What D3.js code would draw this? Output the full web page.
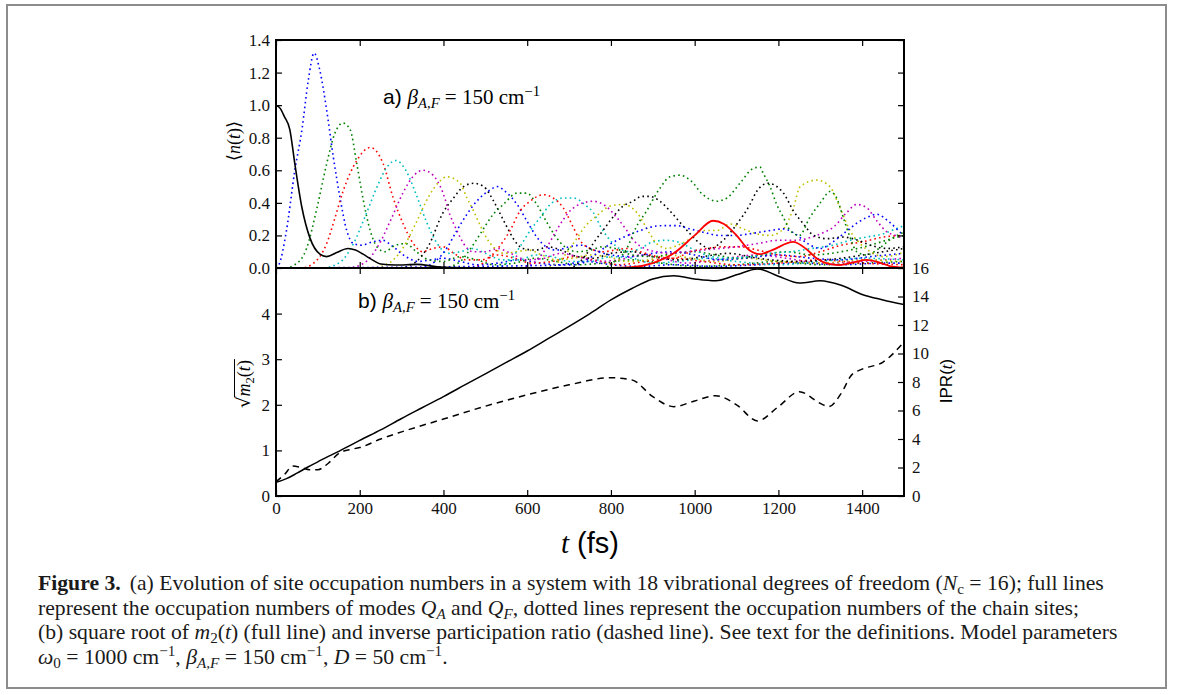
<!DOCTYPE html>
<html><head><meta charset="utf-8">
<script src="https://cdn.jsdelivr.net/npm/d3@7/dist/d3.min.js"></script>
<style>body{margin:0;background:#fff}svg{display:block}</style>
</head><body><svg id="c" width="1179" height="695"></svg>
<script>
// ---------------- data ----------------
const xTicks = [0, 200, 400, 600, 800, 1000, 1200, 1400];
const topYTicks = [0, 0.2, 0.4, 0.6, 0.8, 1.0, 1.2, 1.4];
const botLeftTicks = [0, 1, 2, 3, 4];
const botRightTicks = [0, 2, 4, 6, 8, 10, 12, 14, 16];
const siteColors = ["#0000ff","#008000","#ff0000","#00bfbf","#bf00bf","#bfbf00","#000000",
                    "#0000ff","#008000","#ff0000","#00bfbf","#bf00bf","#bfbf00","#000000",
                    "#0000ff","#008000"];

// chain sites occupation <n(t)>  [t (fs), value]
const site1 = [[0,0],[7,0.02],[25,0.23],[45,0.6],[62,0.85],[77,1.15],[91,1.32],[105,1.21],[121,0.97],[137,0.68],[153,0.43],[169,0.23],[185,0.15],[205,0.14],[230,0.16],[255,0.17],[280,0.13],[310,0.07],[340,0.04],[370,0.05],[400,0.06],[440,0.04],[480,0.02],[530,0.03],[580,0.05],[630,0.03],[680,0.02],[740,0.04],[800,0.02],[870,0.01],[950,0.02],[1050,0.01],[1150,0.02],[1250,0.03],[1350,0.02],[1450,0.03],[1500,0.03]];
const site2 = [[0,0],[20,0],[45,0.02],[73,0.12],[98,0.37],[121,0.64],[141,0.83],[160,0.89],[177,0.85],[193,0.64],[209,0.41],[225,0.23],[241,0.13],[260,0.1],[285,0.14],[310,0.15],[335,0.1],[365,0.05],[400,0.04],[440,0.07],[480,0.05],[520,0.02],[570,0.03],[620,0.06],[670,0.04],[720,0.02],[780,0.03],[850,0.05],[920,0.03],[1000,0.01],[1100,0.02],[1200,0.04],[1300,0.02],[1400,0.03],[1500,0.04]];
const site3 = [[0,0],[60,0],[90,0.03],[121,0.15],[140,0.3],[160,0.47],[193,0.66],[225,0.74],[256,0.64],[280,0.43],[304,0.27],[328,0.15],[350,0.1],[375,0.12],[400,0.13],[425,0.09],[455,0.05],[490,0.05],[530,0.08],[570,0.06],[610,0.03],[660,0.04],[710,0.07],[760,0.05],[820,0.02],[880,0.04],[950,0.06],[1020,0.04],[1100,0.02],[1200,0.03],[1300,0.05],[1400,0.03],[1500,0.02]];
const site4 = [[0,0],[110,0],[150,0.03],[185,0.15],[215,0.33],[245,0.52],[265,0.62],[287,0.66],[310,0.6],[335,0.45],[360,0.28],[385,0.15],[410,0.09],[440,0.1],[470,0.12],[500,0.09],[540,0.05],[580,0.05],[620,0.08],[660,0.07],[700,0.04],[750,0.04],[800,0.07],[850,0.06],[900,0.03],[960,0.04],[1030,0.06],[1100,0.04],[1200,0.02],[1300,0.04],[1400,0.06],[1500,0.05]];
const site5 = [[0,0],[170,0],[210,0.03],[245,0.14],[275,0.3],[305,0.47],[330,0.57],[351,0.6],[375,0.57],[399,0.46],[415,0.33],[432,0.23],[448,0.15],[470,0.1],[500,0.1],[530,0.12],[560,0.09],[600,0.05],[640,0.06],[680,0.09],[720,0.07],[770,0.04],[820,0.05],[870,0.08],[920,0.06],[980,0.03],[1050,0.05],[1150,0.08],[1220,0.06],[1300,0.03],[1400,0.04],[1500,0.06]];
const site6 = [[0,0],[230,0],[270,0.03],[305,0.13],[335,0.28],[365,0.44],[390,0.53],[408,0.56],[440,0.52],[456,0.43],[472,0.35],[488,0.26],[504,0.18],[519,0.13],[545,0.09],[575,0.1],[605,0.11],[635,0.08],[670,0.05],[710,0.06],[750,0.08],[790,0.07],[840,0.04],[890,0.05],[940,0.08],[990,0.06],[1050,0.04],[1120,0.06],[1200,0.04],[1300,0.03],[1400,0.05],[1500,0.04]];
const site7 = [[0,0],[290,0],[330,0.03],[365,0.14],[399,0.34],[424,0.43],[448,0.5],[472,0.52],[496,0.5],[520,0.41],[536,0.33],[552,0.25],[567,0.18],[590,0.12],[620,0.11],[650,0.13],[680,0.11],[720,0.07],[760,0.06],[800,0.09],[850,0.1],[900,0.07],[960,0.05],[1020,0.07],[1080,0.09],[1150,0.06],[1250,0.04],[1350,0.06],[1450,0.1],[1500,0.12]];
const site8 = [[0,0],[340,0],[380,0.04],[410,0.13],[432,0.23],[456,0.33],[483,0.42],[512,0.48],[528,0.5],[552,0.46],[576,0.39],[599,0.29],[623,0.19],[645,0.13],[670,0.11],[700,0.13],[730,0.14],[760,0.11],[800,0.08],[850,0.07],[900,0.09],[950,0.1],[1000,0.08],[1060,0.05],[1120,0.06],[1200,0.08],[1280,0.06],[1350,0.05],[1420,0.07],[1500,0.09]];
const site9 = [[0,0],[400,0],[440,0.04],[465,0.12],[488,0.21],[519,0.33],[543,0.39],[576,0.46],[599,0.46],[623,0.39],[647,0.28],[666,0.2],[690,0.13],[720,0.1],[750,0.11],[780,0.13],[810,0.12],[850,0.08],[900,0.07],[950,0.09],[1000,0.1],[1050,0.08],[1100,0.06],[1160,0.08],[1220,0.1],[1280,0.08],[1350,0.1],[1420,0.14],[1470,0.18],[1500,0.2]];
const site10 = [[0,0],[460,0],[500,0.04],[530,0.12],[559,0.23],[583,0.35],[607,0.41],[639,0.45],[662,0.43],[686,0.37],[710,0.25],[726,0.17],[750,0.12],[780,0.1],[810,0.11],[840,0.12],[870,0.1],[910,0.07],[950,0.06],[990,0.1],[1030,0.12],[1070,0.13],[1110,0.13],[1150,0.11],[1200,0.08],[1250,0.07],[1300,0.1],[1350,0.14],[1400,0.16],[1450,0.19],[1500,0.2]];
const site11 = [[0,0],[520,0],[560,0.05],[585,0.14],[607,0.23],[631,0.31],[655,0.39],[686,0.43],[710,0.43],[742,0.38],[758,0.34],[774,0.26],[798,0.17],[820,0.12],[845,0.1],[870,0.12],[900,0.16],[930,0.17],[960,0.16],[1000,0.11],[1040,0.07],[1080,0.06],[1130,0.07],[1180,0.09],[1230,0.1],[1280,0.12],[1330,0.14],[1371,0.17],[1410,0.19],[1450,0.21],[1480,0.24],[1500,0.26]];
const site12 = [[0,0],[580,0],[620,0.04],[645,0.12],[672,0.24],[702,0.35],[734,0.4],[758,0.41],[782,0.39],[814,0.31],[838,0.23],[854,0.17],[880,0.12],[910,0.1],[940,0.09],[980,0.1],[1020,0.11],[1060,0.12],[1100,0.13],[1150,0.15],[1200,0.17],[1240,0.17],[1280,0.19],[1310,0.22],[1331,0.25],[1363,0.34],[1387,0.39],[1411,0.37],[1435,0.29],[1460,0.22],[1480,0.2],[1500,0.18]];
const site13 = [[0,0],[640,0],[680,0.05],[710,0.15],[740,0.26],[766,0.32],[798,0.38],[830,0.39],[862,0.34],[893,0.21],[909,0.15],[935,0.12],[960,0.14],[990,0.18],[1020,0.23],[1053,0.23],[1085,0.27],[1116,0.24],[1148,0.21],[1180,0.2],[1212,0.24],[1236,0.37],[1252,0.5],[1291,0.54],[1323,0.5],[1347,0.37],[1371,0.23],[1395,0.15],[1420,0.1],[1450,0.07],[1480,0.08],[1500,0.1]];
const site14 = [[0,0],[700,0],[740,0.08],[760,0.16],[781,0.23],[798,0.29],[829,0.38],[853,0.41],[873,0.44],[893,0.44],[917,0.41],[941,0.35],[965,0.28],[989,0.21],[1013,0.15],[1037,0.12],[1068,0.17],[1101,0.27],[1132,0.39],[1148,0.47],[1175,0.52],[1212,0.46],[1236,0.35],[1260,0.27],[1284,0.2],[1316,0.18],[1355,0.19],[1390,0.17],[1420,0.14],[1460,0.12],[1500,0.13]];
const site15 = [[0,0],[720,0.02],[760,0.08],[800,0.15],[840,0.2],[870,0.23],[893,0.25],[925,0.26],[957,0.26],[989,0.24],[1020,0.22],[1060,0.2],[1100,0.2],[1132,0.21],[1180,0.23],[1212,0.24],[1240,0.21],[1270,0.15],[1300,0.12],[1330,0.16],[1360,0.22],[1390,0.28],[1411,0.31],[1435,0.33],[1466,0.28],[1495,0.21],[1500,0.2]];
const site16 = [[0,0],[780,0],[810,0.04],[838,0.12],[860,0.25],[885,0.35],[917,0.49],[941,0.56],[965,0.57],[989,0.54],[1020,0.45],[1053,0.41],[1077,0.43],[1108,0.52],[1139,0.61],[1156,0.62],[1164,0.58],[1180,0.5],[1196,0.39],[1212,0.31],[1228,0.23],[1250,0.2],[1275,0.31],[1303,0.41],[1323,0.47],[1339,0.43],[1355,0.31],[1371,0.19],[1387,0.1],[1410,0.08],[1440,0.12],[1470,0.18],[1500,0.22]];
const sites = [site1,site2,site3,site4,site5,site6,site7,site8,site9,site10,site11,site12,site13,site14,site15,site16];

// modes Q_A (black) and Q_F (red)
const modeQA = [[0,1.0],[10,0.98],[20,0.93],[33,0.85],[45,0.64],[62,0.37],[81,0.185],[105,0.085],[121,0.07],[145,0.095],[172,0.12],[190,0.11],[208,0.085],[230,0.05],[250,0.025],[285,0.018],[337,0.022],[385,0.008],[420,0.003],[500,0],[1500,0]];
const modeQF = [[0,0],[800,0],[850,0.005],[900,0.03],[950,0.09],[1000,0.2],[1044,0.29],[1070,0.27],[1100,0.2],[1130,0.11],[1156,0.085],[1185,0.11],[1235,0.16],[1265,0.12],[1291,0.06],[1320,0.025],[1345,0.018],[1380,0.035],[1411,0.05],[1440,0.035],[1466,0.012],[1500,0.003]];

// panel b: sqrt(m2(t)) (left axis) and IPR(t) (right axis)
const sqrtM2 = [[0,0.3],[25,0.38],[50,0.5],[75,0.63],[100,0.75],[125,0.87],[150,0.98],[175,1.1],[200,1.22],[250,1.45],[300,1.7],[350,1.94],[400,2.18],[450,2.43],[500,2.68],[550,2.93],[600,3.18],[650,3.45],[700,3.72],[750,4.0],[800,4.3],[850,4.55],[900,4.76],[950,4.83],[1000,4.76],[1050,4.72],[1100,4.85],[1150,4.98],[1200,4.82],[1250,4.67],[1300,4.72],[1350,4.62],[1400,4.42],[1450,4.3],[1500,4.2]];
const ipr = [[0,1.0],[20,1.5],[40,2.1],[60,2.0],[80,1.85],[100,1.85],[125,2.3],[150,3.0],[175,3.25],[200,3.4],[250,4.0],[300,4.5],[400,5.4],[500,6.3],[600,7.1],[700,7.8],[800,8.3],[850,8.15],[900,6.97],[950,6.27],[1000,6.67],[1050,7.04],[1100,6.4],[1150,5.27],[1200,6.27],[1250,7.32],[1300,6.5],[1320,6.27],[1350,7.2],[1375,8.5],[1400,8.9],[1450,9.4],[1500,10.8]];

// ---------------- drawing ----------------
const svg = d3.select("#c");
const L = 276, R = 904, T1 = 40, M = 268, B = 496;
const x = d3.scaleLinear().domain([0,1500]).range([L,R]);
const yTop = d3.scaleLinear().domain([0,1.4]).range([M,T1]);
const yL = d3.scaleLinear().domain([0,5]).range([B,M]);
const yR = d3.scaleLinear().domain([0,16]).range([B,M]);
const SERIF = "Liberation Serif, DejaVu Serif, serif";
const SANS = "Liberation Sans, Arial, sans-serif";

// outer frame
svg.append("rect").attr("x",7).attr("y",5).attr("width",1159).attr("height",683)
  .attr("fill","none").attr("stroke","#8c8c8c").attr("stroke-width",2);

const defs = svg.append("defs");
defs.append("clipPath").attr("id","clipTop").append("rect").attr("x",L).attr("y",T1).attr("width",R-L).attr("height",M-T1);
defs.append("clipPath").attr("id","clipBot").append("rect").attr("x",L).attr("y",M-3).attr("width",R-L).attr("height",B-M+3);

const lineTop = d3.line().x(d=>x(d[0])).y(d=>yTop(d[1])).curve(d3.curveMonotoneX);
const gTop = svg.append("g").attr("clip-path","url(#clipTop)");
sites.forEach((s,i)=>{
  gTop.append("path").attr("d",lineTop(s)).attr("fill","none")
    .attr("stroke",siteColors[i]).attr("stroke-width",1.6)
    .attr("stroke-dasharray","1.6,3.2");
});
gTop.append("path").attr("d",lineTop(modeQA)).attr("fill","none").attr("stroke","#000").attr("stroke-width",1.6);
gTop.append("path").attr("d",lineTop(modeQF)).attr("fill","none").attr("stroke","#ff0000").attr("stroke-width",1.8);

const gBot = svg.append("g").attr("clip-path","url(#clipBot)");
gBot.append("path").attr("d",d3.line().x(d=>x(d[0])).y(d=>yL(d[1])).curve(d3.curveMonotoneX)(sqrtM2))
  .attr("fill","none").attr("stroke","#000").attr("stroke-width",1.5);
gBot.append("path").attr("d",d3.line().x(d=>x(d[0])).y(d=>yR(d[1])).curve(d3.curveMonotoneX)(ipr))
  .attr("fill","none").attr("stroke","#000").attr("stroke-width",1.5).attr("stroke-dasharray","6.5,5");

// axes
function styleAxis(g){
  g.select(".domain").remove();
  g.selectAll(".tick line").attr("stroke","#000").attr("stroke-width",1.2);
  g.selectAll(".tick text").attr("font-family",SERIF).attr("font-size",17).attr("fill","#111");
}
const TS = -6;
svg.append("g").attr("transform",`translate(${L},0)`).call(d3.axisLeft(yTop).tickValues(topYTicks).tickSize(TS).tickPadding(6).tickFormat(d3.format(".1f"))).call(styleAxis);
svg.append("g").attr("transform",`translate(${R},0)`).call(d3.axisRight(yTop).tickValues(topYTicks).tickSize(TS).tickFormat("")).call(styleAxis);
svg.append("g").attr("transform",`translate(0,${T1})`).call(d3.axisTop(x).tickValues(xTicks).tickSize(TS).tickFormat("")).call(styleAxis);
svg.append("g").attr("transform",`translate(0,${M})`).call(d3.axisBottom(x).tickValues(xTicks).tickSize(TS).tickFormat("")).call(styleAxis);
svg.append("g").attr("transform",`translate(0,${M})`).call(d3.axisTop(x).tickValues(xTicks).tickSize(TS).tickFormat("")).call(styleAxis);
svg.append("g").attr("transform",`translate(0,${B})`).call(d3.axisBottom(x).tickValues(xTicks).tickSize(TS).tickPadding(6).tickFormat(d3.format("d"))).call(styleAxis);
svg.append("g").attr("transform",`translate(${L},0)`).call(d3.axisLeft(yL).tickValues(botLeftTicks).tickSize(TS).tickPadding(6).tickFormat(d3.format("d"))).call(styleAxis);
svg.append("g").attr("transform",`translate(${R},0)`).call(d3.axisRight(yR).tickValues(botRightTicks).tickSize(TS).tickPadding(8).tickFormat(d3.format("d"))).call(styleAxis);

// spines
svg.append("rect").attr("x",L).attr("y",T1).attr("width",R-L).attr("height",B-T1).attr("fill","none").attr("stroke","#000").attr("stroke-width",2);
svg.append("line").attr("x1",L).attr("x2",R).attr("y1",M).attr("y2",M).attr("stroke","#000").attr("stroke-width",2);

// rich text helper
function rich(parent, x0, y0, segs, size, family, anchor){
  const t = parent.append("text").attr("x",x0).attr("y",y0).attr("font-size",size)
    .attr("font-family",family||SERIF).attr("fill","#000");
  if(anchor) t.attr("text-anchor",anchor);
  let shift = 0;
  segs.forEach(s=>{
    const ts = t.append("tspan").text(s.t);
    let target = 0, sz = size;
    if(s.sub){ target = size*0.2; sz = size*0.7; }
    if(s.sup){ target = -size*0.36; sz = size*0.7; }
    if(target !== shift){ ts.attr("dy", target-shift); shift = target; }
    ts.attr("font-size", sz);
    if(s.i) ts.attr("font-style","italic");
    if(s.b) ts.attr("font-weight","bold");
    if(s.f) ts.attr("font-family",s.f);
    if(s.dx) ts.attr("dx",s.dx);
  });
  return t;
}

// panel annotations
rich(svg, 383, 104, [{t:"a) ",f:SANS},{t:"β",i:true},{t:"A,F",sub:true,i:true},{t:" = 150 cm"},{t:"−1",sup:true}], 21);
rich(svg, 358, 308, [{t:"b) ",f:SANS},{t:"β",i:true},{t:"A,F",sub:true,i:true},{t:" = 150 cm"},{t:"−1",sup:true}], 21);

// y labels
const gy1 = svg.append("g").attr("transform","translate(240,141) rotate(-90)");
rich(gy1, 0, 0, [{t:"⟨",f:"DejaVu Serif"},{t:"n",i:true},{t:"("},{t:"t",i:true},{t:")"},{t:"⟩",f:"DejaVu Serif"}], 18, SERIF, "middle");
const gy2 = svg.append("g").attr("transform","translate(250,384) rotate(-90)");
const t2 = rich(gy2, 0, 0, [{t:"√",f:"DejaVu Serif"},{t:"m",i:true},{t:"2",sub:true},{t:"("},{t:"t",i:true},{t:")"}], 18, SERIF, "middle");
const bb = t2.node().getBBox();
const sqW = t2.node().getSubStringLength(0,1);
gy2.append("line").attr("x1",bb.x+sqW-1).attr("x2",bb.x+bb.width+1).attr("y1",bb.y+1.5).attr("y2",bb.y+1.5).attr("stroke","#000").attr("stroke-width",1);
const gy3 = svg.append("g").attr("transform","translate(952,381) rotate(-90)");
rich(gy3, 0, 0, [{t:"IPR(",f:SANS},{t:"t",i:true},{t:")",f:SANS}], 17, SERIF, "middle");

// x label
rich(svg, 590, 553, [{t:"t",i:true},{t:" (fs)",f:SANS}], 29, SERIF, "middle");

// caption
const capLines = [
  [{t:"Figure 3.",b:true},{t:"(a) Evolution of site occupation numbers in a system with 18 vibrational degrees of freedom (",dx:9},{t:"N",i:true},{t:"c",sub:true},{t:" = 16); full lines"}],
  [{t:"represent the occupation numbers of modes "},{t:"Q",i:true},{t:"A",sub:true,i:true},{t:" and "},{t:"Q",i:true},{t:"F",sub:true,i:true},{t:", dotted lines represent the occupation numbers of the chain sites;"}],
  [{t:"(b) square root of "},{t:"m",i:true},{t:"2",sub:true},{t:"("},{t:"t",i:true},{t:") (full line) and inverse participation ratio (dashed line). See text for the definitions. Model parameters"}],
  [{t:"ω",i:true},{t:"0",sub:true},{t:" = 1000 cm"},{t:"−1",sup:true},{t:", "},{t:"β",i:true},{t:"A,F",sub:true,i:true},{t:" = 150 cm"},{t:"−1",sup:true},{t:", "},{t:"D",i:true},{t:" = 50 cm"},{t:"−1",sup:true},{t:"."}]
];
const capBase = [590, 614.5, 639, 663.5];
const capNodes = capLines.map((segs,i)=>rich(svg, 38, capBase[i], segs, 17, SERIF));
const w3 = capNodes[2].node().getBBox().width;
const k = 1080 / w3;
capNodes.forEach(n=>{
  n.attr("font-size",17*k);
  n.selectAll("tspan").each(function(){
    const el = d3.select(this);
    el.attr("font-size", +el.attr("font-size")*k);
    if(el.attr("dy")) el.attr("dy", +el.attr("dy")*k);
  });
  n.attr("fill","#1a1a1a");
});
</script></body></html>
